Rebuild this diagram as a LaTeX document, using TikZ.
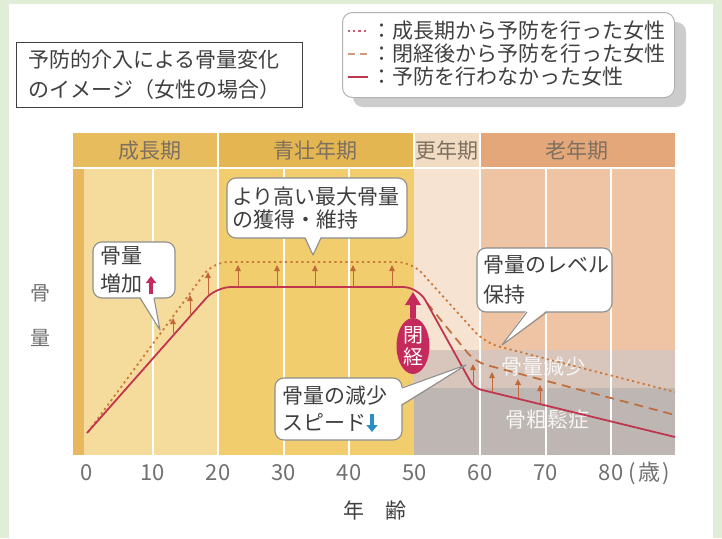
\documentclass[tikz,border=0pt]{standalone}
\usepackage{fontspec}
\setmainfont{Noto Sans CJK JP}
\usetikzlibrary{arrows.meta,shapes.geometric}

\definecolor{pagegreen}{HTML}{E2EDD7}
\definecolor{growthhead}{HTML}{E6BC5C}
\definecolor{growthbody}{HTML}{F6DC9C}
\definecolor{growthstrip}{HTML}{E9B85E}
\definecolor{adulthead}{HTML}{E4B652}
\definecolor{adultbody}{HTML}{F1CD6E}
\definecolor{climachead}{HTML}{F2DBC3}
\definecolor{climacbody}{HTML}{F7E3D2}
\definecolor{elderhead}{HTML}{E4A77A}
\definecolor{elderbody}{HTML}{EFC4A4}
\definecolor{lossband}{HTML}{D8C6BC}
\definecolor{osteoband}{HTML}{BDB6B2}
\definecolor{solidred}{HTML}{C0364F}
\definecolor{dashbrown}{HTML}{C0703E}
\definecolor{dotorange}{HTML}{CC7A3A}
\definecolor{arrowbrown}{HTML}{C0683A}
\definecolor{menomagenta}{HTML}{C42B5C}
\definecolor{arrowblue}{HTML}{2A8FC4}
\definecolor{calloutgray}{HTML}{8E8E8E}
\definecolor{textgray}{HTML}{3F3F3F}
\definecolor{headtext}{HTML}{7D7060}
\definecolor{ticktext}{HTML}{707070}

\begin{document}
\begin{tikzpicture}[x=1pt, y=-1pt,
    callout/.style={draw=calloutgray, fill=white, line width=1.1pt, rounded corners=9pt,
      align=left, text=textgray, inner ysep=0pt},
    tail/.style={draw=calloutgray, line width=1.1pt, line join=round},
    header/.style={font=\fontsize{21}{25}\selectfont, text=headtext},
    tick/.style={font=\fontsize{22}{26}\selectfont, text=ticktext},
    legendtext/.style={font=\fontsize{21}{25}\selectfont, text=textgray, inner sep=0pt, anchor=west},
    grid/.style={white, line width=2pt},
    noprev/.style={line width=1.8pt, solidred},
    lateprev/.style={line width=1.8pt, dashbrown, dash pattern=on 9pt off 6pt},
    earlyprev/.style={line width=1.8pt, dotorange, dash pattern=on 2.2pt off 3.3pt},
    uparrow/.style={-{Triangle[width=5.5pt,length=6pt]}, line width=1pt, arrowbrown}
  ]
    % Page
    \useasboundingbox (0,0) rectangle (722,538);
    \fill[pagegreen] (0,0) rectangle (722,538);
    \fill[white] (9,4) rectangle (713,538);

    % Title and legend
    \node[draw=textgray, line width=1.2pt, anchor=north west, minimum width=286pt, minimum height=65pt,
      text width=262pt, inner xsep=12pt, align=left, text=textgray,
      font=\fontsize{21}{30}\selectfont] (title) at (16,42)
      {予防的介入による骨量変化\\のイメージ（女性の場合）};
    \fill[gray!40, rounded corners=10pt] (353,22) rectangle (686,107);
    \node[draw=gray!60, fill=white, line width=1pt, rounded corners=10pt, anchor=north west,
      minimum width=332pt, minimum height=85pt] (legend) at (342,12) {};
    \node[legendtext] (early) at (371,31) {：成長期から予防を行った女性};
    \node[legendtext] (late) at (371,54) {：閉経後から予防を行った女性};
    \node[legendtext] (none) at (371,77) {：予防を行わなかった女性};
    \draw[line width=1.8pt, solidred!80, dash pattern=on 2.2pt off 3pt] ([xshift=-23pt]early.west) -- ([xshift=-3pt]early.west);
    \draw[line width=1.8pt, dashbrown!70, dash pattern=on 7pt off 5pt] ([xshift=-23pt]late.west) -- ([xshift=-3pt]late.west);
    \draw[line width=1.8pt, solidred] ([xshift=-23pt]none.west) -- ([xshift=-3pt]none.west);

    % Chart background
    \fill[growthbody] (73,169) rectangle (218,455);
    \fill[growthstrip] (73,169) rectangle (84,455);
    \fill[adultbody] (218,169) rectangle (414,455);
    \fill[climacbody] (414,169) rectangle (480,455);
    \fill[elderbody] (480,169) rectangle (675,455);
    \fill[lossband] (414,350) rectangle (675,388);
    \fill[osteoband] (414,388) rectangle (675,455);
    \fill[growthhead] (73,133) rectangle (218,167);
    \fill[adulthead] (218,133) rectangle (414,167);
    \fill[climachead] (414,133) rectangle (480,167);
    \fill[elderhead] (480,133) rectangle (675,167);
    \foreach \x in {218,414,480}
      \draw[grid] (\x,133) -- (\x,167);
    \foreach \a in {10,20,30,40,60,70,80}
      \draw[grid] ({87+6.55*\a},169) -- ({87+6.55*\a},455);

    % Periods
    \node[header] (growth) at (150,151) {成長期};
    \node[header] (adult) at (315,151) {青壮年期};
    \node[header] (climac) at (447,151) {更年期};
    \node[header] (elder) at (577,151) {老年期};

    % Zones
    \node[font=\fontsize{21}{25}\selectfont, text=white!92!gray] (loss) at (543,367) {骨量減少};
    \node[font=\fontsize{21}{25}\selectfont, text=white!92!gray] (osteo) at (547,420) {骨粗鬆症};

    % Curves
    \draw[earlyprev, rounded corners=15pt] (88,432) -- (213,262) -- (412,262) -- (485,343) -- (675,392);
    \draw[lateprev, rounded corners=12pt] (427,303) -- (475,362) -- (675,415);
    \draw[noprev, rounded corners=15pt] (87,433) -- (216,287) -- (418,287) [rounded corners=7pt] -- (474,388) -- (675,437);

    % Arrows
    \foreach \x/\a/\b in {173/335/318, 190/316/295, 208/295/272,
        238/287/265, 277/287/265, 315/287/265, 353/287/265, 392/287/265,
        473/385/364, 492/392/372, 518/398/379, 540/403/385}
      \draw[uparrow] (\x,\a) -- (\x,\b);

    % Menopause
    \node[ellipse, fill=menomagenta, minimum width=33pt, minimum height=55pt, inner sep=0pt,
      text=white, align=center, font=\fontsize{20}{22}\selectfont] (meno) at (413,346) {閉\\経};
    \coordinate (menotop) at (413,292);
    \draw[-{Triangle[width=15pt,length=13pt]}, line width=6pt, menomagenta] (meno.north) -- (menotop);

    % Callouts
    \node[callout, text width=68pt, inner xsep=7pt, minimum height=56pt,
      font=\fontsize{21}{28}\selectfont] (gain) at (134,270) {骨量\\増加};
    \coordinate (gaintip) at (160,330);
    \fill[white] (140,296) -- (gaintip) -- (154,296) -- cycle;
    \draw[tail] (140,298) -- (gaintip) -- (154,298);
    \draw[-{Triangle[width=10pt,length=7pt]}, line width=4pt, menomagenta] (151,294) -- (151,276);

    \node[callout, text width=170pt, inner xsep=5pt, minimum height=60pt,
      font=\fontsize{21}{23}\selectfont] (peak) at (317,208) {より高い最大骨量\\の獲得・維持};
    \coordinate (peaktip) at (313,255);
    \fill[white] (305,236) -- (peaktip) -- (321,236) -- cycle;
    \draw[tail] (305,238) -- (peaktip) -- (321,238);

    \node[callout, text width=123pt, inner xsep=6pt, minimum height=64pt,
      font=\fontsize{21}{30}\selectfont] (keep) at (544.5,280) {骨量のレベル\\保持};
    \coordinate (keeptip) at (502,345);
    \fill[white] (527,310) -- (keeptip) -- (547,310) -- cycle;
    \draw[tail] (527,312) -- (keeptip) -- (547,312);

    \node[callout, text width=113pt, inner xsep=7pt, minimum height=62pt,
      font=\fontsize{21}{27}\selectfont] (slow) at (338.5,409) {骨量の減少\\スピード};
    \coordinate (slowtip) at (466,365);
    \fill[white] (400,388) -- (slowtip) -- (400,405) -- cycle;
    \draw[tail] (402,388) -- (slowtip) -- (402,405);
    \draw[-{Triangle[width=11pt,length=7pt]}, line width=4.5pt, arrowblue] (372,414) -- (372,432);

    % Axes
    \node[font=\fontsize{20}{24}\selectfont, text=ticktext] (bone) at (40,293) {骨};
    \node[font=\fontsize{20}{24}\selectfont, text=ticktext] (mass) at (40,338) {量};
    \foreach \a in {0,10,...,70}
      \node[tick] (t\a) at ({87+6.55*\a},473) {\a};
    \node[tick] (t80) at (611,473) {80};
    \node[tick, anchor=west, inner sep=0pt] (unit) at ([xshift=2pt]t80.east) {(\kern2pt 歳\kern2pt)};
    \node[font=\fontsize{21}{25}\selectfont, text=textgray] (age) at (375,510) {年　齢};
  \end{tikzpicture}
\end{document}
